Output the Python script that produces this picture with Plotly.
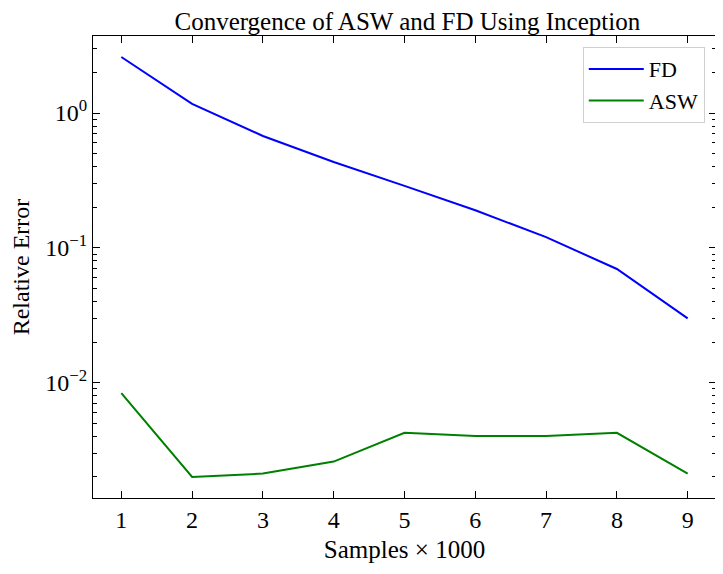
import plotly.graph_objects as go

# data
samples = [1, 2, 3, 4, 5, 6, 7, 8, 9]
fd_error = [2.6, 1.17, 0.675, 0.433, 0.288, 0.19, 0.12, 0.0697, 0.030]
asw_error = [0.00837, 0.0020, 0.00212, 0.0026, 0.00425, 0.00403, 0.00403, 0.00425, 0.00212]

ytick_vals = [1, 0.1, 0.01]
ytick_text = ['10<sup>0</sup>', '10<sup>\u22121</sup>', '10<sup>\u22122</sup>']

font = 'Liberation Serif, Times New Roman, serif'

fig = go.Figure()
fig.add_trace(go.Scatter(x=samples, y=fd_error, name='FD', mode='lines',
                         line=dict(color='#0000ff', width=2)))
fig.add_trace(go.Scatter(x=samples, y=asw_error, name='ASW', mode='lines',
                         line=dict(color='#008000', width=2)))

axis_style = dict(showline=True, linecolor='black', linewidth=1.2, mirror='ticks',
                  ticks='inside', ticklen=7, tickwidth=1, tickcolor='black',
                  showgrid=False, zeroline=False)

fig.update_xaxes(range=[0.6, 9.4], tickvals=samples, automargin=False,
                 title=dict(text='Samples \u00d7 1000', font=dict(size=25), standoff=8),
                 tickfont=dict(size=24), **axis_style)
fig.update_yaxes(type='log', range=[-2.855, 0.571], automargin=True,
                 tickvals=ytick_vals, ticktext=ytick_text,
                 minor=dict(ticks='inside', ticklen=4, tickcolor='black', dtick='D1',
                            showgrid=False),
                 title=dict(text='Relative Error', font=dict(size=24), standoff=9),
                 tickfont=dict(size=24), **axis_style)

# page body adds an 8px offset, so the figure is sized to fit the window
fig.update_layout(
    width=715, height=566,
    margin=dict(l=85, r=7, t=28, b=76),
    paper_bgcolor='white', plot_bgcolor='white',
    font=dict(family=font, color='black'),
    title=dict(text='Convergence of ASW and FD Using Inception', x=0.5585, xanchor='center',
               y=0.976, yanchor='middle', font=dict(size=25)),
    legend=dict(x=0.982, y=0.976, xanchor='right', yanchor='top',
                bgcolor='white', bordercolor='#d0d0d0', borderwidth=1,
                font=dict(size=22), itemwidth=55),
)

fig.write_html("out.html")
